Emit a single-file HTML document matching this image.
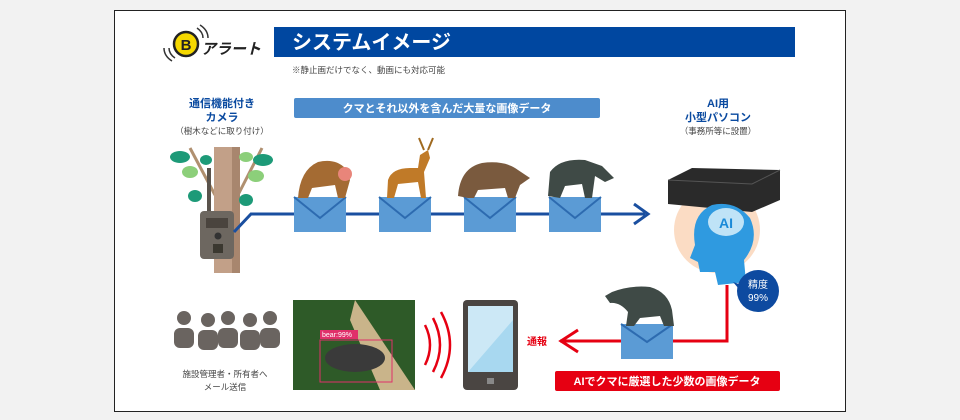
<!DOCTYPE html>
<html><head><meta charset="utf-8"><style>
body{margin:0;width:960px;height:420px;background:#f2f2f2;font-family:"Liberation Sans","Noto Sans CJK JP",sans-serif;overflow:hidden}
.frame{position:absolute;left:114px;top:10px;width:730px;height:400px;background:#fff;border:1px solid #222}
.a{position:absolute}
</style></head><body>
<div class="frame"></div>
<svg class="a" style="left:0;top:0" width="960" height="420">
<circle cx="186" cy="44" r="12" fill="#f5d800" stroke="#222" stroke-width="2.5"/>
<text x="186" y="50" font-size="15" font-weight="bold" text-anchor="middle" fill="#222" font-family="Liberation Sans">B</text>
<path d="M197 28 q6 4 6 10 M200 25 q8 5 8 13" stroke="#333" stroke-width="1.5" fill="none"/>
<path d="M175 58 q-6 -4 -6 -10 M172 61 q-8 -5 -8 -13" stroke="#333" stroke-width="1.5" fill="none"/>
<text x="201" y="54" font-size="15" font-weight="bold" font-style="italic" fill="#222">アラート</text>
<rect x="274" y="27" width="521" height="30" fill="#0047a0"/>
<text x="292" y="49" font-size="20" font-weight="bold" fill="#fff">システムイメージ</text>
<text x="292" y="73" font-size="8.5" fill="#444">※静止画だけでなく、動画にも対応可能</text>
<text x="222" y="107" font-size="11" font-weight="bold" fill="#0a4aa0" text-anchor="middle">通信機能付き</text>
<text x="222" y="121" font-size="11" font-weight="bold" fill="#0a4aa0" text-anchor="middle">カメラ</text>
<text x="222" y="134" font-size="8.5" fill="#444" text-anchor="middle">（樹木などに取り付け）</text>
<rect x="294" y="98" width="306" height="20" rx="2" fill="#4d8ccc"/>
<text x="447" y="112" font-size="11" fill="#fff" text-anchor="middle" font-weight="bold">クマとそれ以外を含んだ大量な画像データ</text>
<path d="M190 148 L215 195 M262 148 L238 195" stroke="#b09070" stroke-width="3"/>
<rect x="214" y="147" width="26" height="126" fill="#c2a088"/>
<rect x="232" y="147" width="8" height="126" fill="#a8866e"/>
<g fill="#8ccf7a"><ellipse cx="190" cy="172" rx="8" ry="6"/><ellipse cx="256" cy="176" rx="8" ry="6"/><ellipse cx="246" cy="157" rx="7" ry="5"/></g>
<g fill="#1d9a78"><ellipse cx="180" cy="157" rx="10" ry="6"/><ellipse cx="195" cy="196" rx="7" ry="6"/><ellipse cx="263" cy="160" rx="10" ry="6"/><ellipse cx="246" cy="200" rx="7" ry="6"/><ellipse cx="206" cy="160" rx="6" ry="5"/></g>
<rect x="207" y="168" width="4" height="45" fill="#5a534c"/>
<rect x="200" y="211" width="34" height="48" rx="4" fill="#6d6760"/>
<rect x="206" y="218" width="22" height="10" fill="#4a443e"/>
<circle cx="218" cy="236" r="3.5" fill="#333"/><rect x="213" y="244" width="10" height="9" fill="#3b3830"/>
<path d="M234 232 L251 214 L645 214" stroke="#1a4fa0" stroke-width="3" fill="none"/>
<path d="M634 204 L648 214 L634 224" stroke="#1a4fa0" stroke-width="3" fill="none"/>
<rect x="294" y="197" width="52" height="35" fill="#5b9bd5"/><path d="M294 197 L320 218 L346 197" stroke="#2d6bb0" stroke-width="2" fill="none"/>
<rect x="379" y="197" width="52" height="35" fill="#5b9bd5"/><path d="M379 197 L405 218 L431 197" stroke="#2d6bb0" stroke-width="2" fill="none"/>
<rect x="464" y="197" width="52" height="35" fill="#5b9bd5"/><path d="M464 197 L490 218 L516 197" stroke="#2d6bb0" stroke-width="2" fill="none"/>
<rect x="549" y="197" width="52" height="35" fill="#5b9bd5"/><path d="M549 197 L575 218 L601 197" stroke="#2d6bb0" stroke-width="2" fill="none"/>
<path d="M298 198 Q300 170 318 162 Q335 158 345 168 L350 180 L345 198 L338 198 L335 185 L312 188 L308 198Z" fill="#a46b33"/>
<circle cx="345" cy="174" r="7" fill="#e8857a"/>
<path d="M387 198 L388 180 Q392 168 410 168 L418 168 L420 155 L428 150 L430 158 L424 172 L426 198 L421 198 L418 182 L398 184 L394 198Z" fill="#c07a28"/>
<path d="M424 150 l-5 -12 M428 150 l5 -12" stroke="#a06a20" stroke-width="2"/>
<path d="M458 196 Q460 168 482 163 Q505 160 518 170 L530 178 L520 185 L515 198 L508 198 L505 188 L478 190 L474 198 L468 198Z" fill="#7a5a3e"/>
<path d="M548 196 L550 172 Q560 158 585 160 L602 166 L614 178 L605 182 L595 176 L592 198 L585 198 L582 184 L565 186 L560 198Z" fill="#3f4a46"/>
<circle cx="717" cy="230" r="43" fill="#fbdcc4"/>
<path d="M668 180 L692 168 L780 170 L780 200 L752 212 L668 204Z" fill="#2a2a2a"/>
<path d="M668 180 L752 184 L780 170" stroke="#555" stroke-width="1" fill="none"/>
<path d="M712 205 Q690 215 695 245 L690 258 L698 262 L700 272 L715 272 L718 285 L746 282 L744 260 Q760 240 750 218 Q735 200 712 205Z" fill="#2f9ae0"/>
<ellipse cx="726" cy="222" rx="18" ry="14" fill="#bfe3f7"/>
<text x="726" y="228" font-size="14" font-weight="bold" fill="#1a8ad8" text-anchor="middle">AI</text>
<circle cx="758" cy="291" r="21" fill="#0d4aa0"/><path d="M742 285 L733 282 L745 296Z" fill="#0d4aa0"/>
<text x="758" y="288" font-size="10" fill="#fff" text-anchor="middle">精度</text><text x="758" y="301" font-size="10" fill="#fff" text-anchor="middle">99%</text>
<text x="718" y="107" font-size="11" font-weight="bold" fill="#0a4aa0" text-anchor="middle">AI用</text>
<text x="718" y="121" font-size="11" font-weight="bold" fill="#0a4aa0" text-anchor="middle">小型パソコン</text>
<text x="718" y="134" font-size="8.5" fill="#444" text-anchor="middle">（事務所等に設置）</text>
<path d="M727 285 L727 341 L560 341" stroke="#e60012" stroke-width="3" fill="none"/>
<path d="M578 330 L561 341 L578 352" stroke="#e60012" stroke-width="3" fill="none"/>
<text x="527" y="345" font-size="10" font-weight="bold" fill="#e60012">通報</text>
<rect x="621" y="324" width="52" height="35" fill="#5b9bd5"/><path d="M621 324 L647 342 L673 324" stroke="#2d6bb0" stroke-width="2" fill="none"/>
<path d="M605 296 L612 292 Q630 285 650 287 Q668 292 672 310 L674 326 L664 326 L660 316 L640 318 L634 326 L626 326 L628 312 Q620 302 610 303Z" fill="#3f4a46"/>
<rect x="555" y="371" width="225" height="20" rx="2" fill="#e60012"/>
<text x="667" y="385" font-size="11" font-weight="bold" fill="#fff" text-anchor="middle">AIでクマに厳選した少数の画像データ</text>
<rect x="463" y="300" width="55" height="90" rx="4" fill="#4a4542"/><rect x="468" y="306" width="45" height="66" fill="#cce8f6"/><path d="M468 372 L513 372 L513 320Z" fill="#a8d8f0"/><rect x="487" y="378" width="7" height="6" fill="#888"/>
<path d="M425 325 q10 20 0 40 M433 318 q14 27 0 54 M441 312 q18 33 0 66" stroke="#e60012" stroke-width="2.5" fill="none"/>
<rect x="293" y="300" width="122" height="90" fill="#2e5a28"/><path d="M355 300 L415 390 L380 390 L350 320Z" fill="#c9b48a"/>
<ellipse cx="355" cy="358" rx="30" ry="14" fill="#3a3a3a"/><rect x="320" y="340" width="72" height="42" fill="none" stroke="#e0306a" stroke-width="1"/><rect x="320" y="330" width="38" height="9" fill="#e0306a"/>
<text x="322" y="337" font-size="7" fill="#fff">bear:99%</text>
<g fill="#6a6460"><circle cx="184" cy="318" r="7"/><circle cx="208" cy="320" r="7"/><circle cx="228" cy="318" r="7"/><circle cx="250" cy="320" r="7"/><circle cx="270" cy="318" r="7"/>
<rect x="174" y="328" width="20" height="20" rx="6"/><rect x="198" y="330" width="20" height="20" rx="6"/><rect x="218" y="328" width="20" height="20" rx="6"/><rect x="240" y="330" width="20" height="20" rx="6"/><rect x="260" y="328" width="20" height="20" rx="6"/></g>
<text x="225" y="377" font-size="8.5" fill="#444" text-anchor="middle">施設管理者・所有者へ</text>
<text x="225" y="390" font-size="8.5" fill="#444" text-anchor="middle">メール送信</text>
</svg>
</body></html>
